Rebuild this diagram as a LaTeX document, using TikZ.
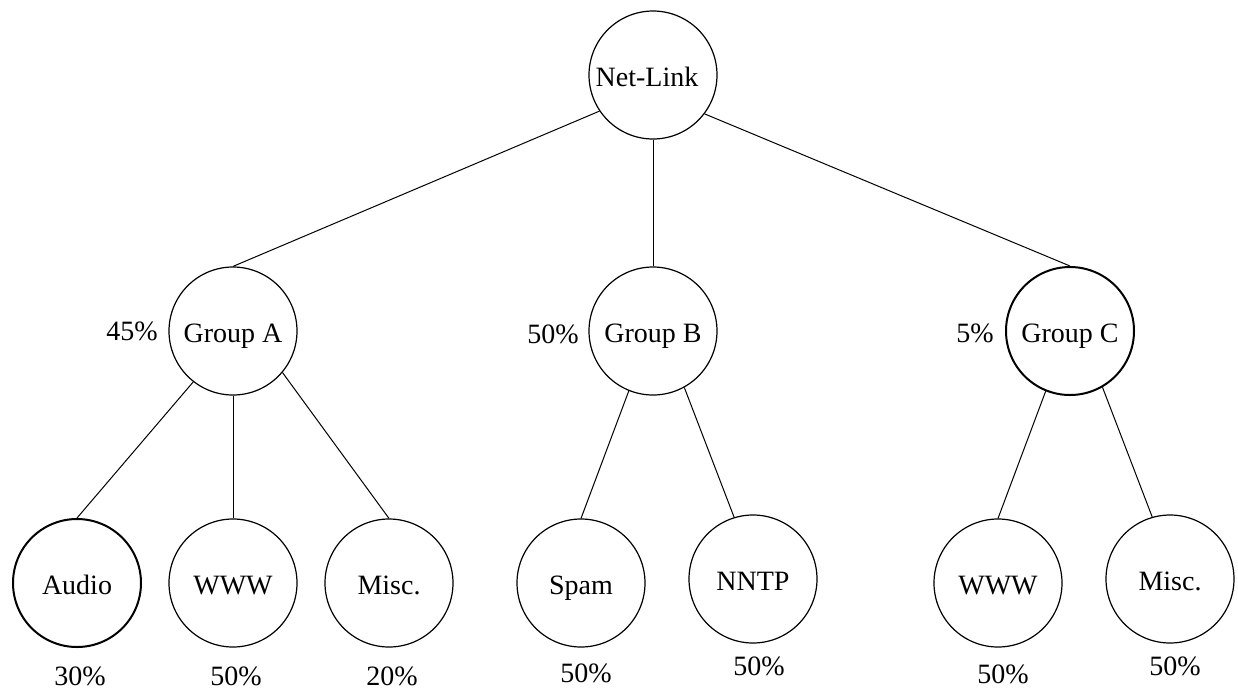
\documentclass[tikz,border=0pt]{standalone}
\usepackage{fontspec}
\setmainfont{Liberation Serif}
\begin{document}
\begin{tikzpicture}[x=0.5pt,y=-0.5pt,
  every node/.style={font=\fontsize{14pt}{16pt}\selectfont},
  site/.style={circle, draw, line width=0.6pt, minimum size=64pt, inner sep=0pt,
               text height=11.8pt, text depth=0pt},
  heavy/.style={line width=1pt},
  share/.style={anchor=base, inner sep=0pt},
  link/.style={line width=0.5pt}]
\useasboundingbox (0,0) rectangle (1238,692);

% traffic classes
\node[site]       (net)   at (653,75)   {\hspace*{-6pt}Net-Link};
\node[site]       (ga)    at (233,331)  {Group A};
\node[site]       (gb)    at (653,331)  {Group B};
\node[site,heavy] (gc)    at (1070,331) {Group C};
\node[site,heavy] (audio) at (77,583)   {Audio};
\node[site]       (wwwa)  at (233,583)  {WWW};
\node[site]       (misca) at (389,583)  {Misc.};
\node[site]       (spam)  at (581,583)  {Spam};
\node[site]       (nntp)  at (753,579)  {NNTP};
\node[site]       (wwwc)  at (998,583)  {WWW};
\node[site]       (miscc) at (1170,579) {Misc.};

% hierarchy links
\draw[link] (net.214) -- (ga.north);
\draw[link] (net.south) -- (gb.north);
\draw[link] (net.323) -- (gc.north);
\draw[link] (ga.232) -- (audio.north);
\draw[link] (ga.south) -- (wwwa.north);
\draw[link] (ga.320) -- (misca.north);
\draw[link] (gb.248) -- (spam.north);
\draw[link] (gb.299) -- (nntp.107);
\draw[link] (gc.248) -- (wwwc.north);
\draw[link] (gc.300) -- (miscc.106);

% bandwidth shares
\node[share] (pga)    at (132,340)  {45\%};
\node[share] (pgb)    at (553,343)  {50\%};
\node[share] (pgc)    at (975,342)  {5\%};
\node[share] (paudio) at (80,685)   {30\%};
\node[share] (pwwwa)  at (236,685)  {50\%};
\node[share] (pmisca) at (392,685)  {20\%};
\node[share] (pspam)  at (586,682)  {50\%};
\node[share] (pnntp)  at (759,675)  {50\%};
\node[share] (pwwwc)  at (1003,683) {50\%};
\node[share] (pmiscc) at (1175,675) {50\%};
\end{tikzpicture}
\end{document}
